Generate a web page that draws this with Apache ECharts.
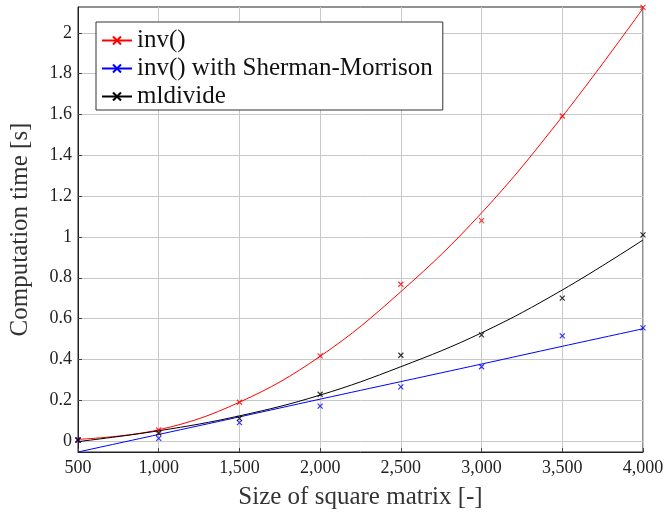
<!DOCTYPE html>
<html>
<head>
<meta charset="utf-8">
<script src="https://cdn.jsdelivr.net/npm/echarts@6/dist/echarts.min.js"></script>
<style>
  html, body { margin: 0; padding: 0; background: #fff; }
  #chart { width: 664px; height: 516px; }
</style>
</head>
<body>
<div id="chart"></div>
<script>
// matrix sizes
var sizes = [500, 1000, 1500, 2000, 2500, 3000, 3500, 4000];
// measured times [s]
var invTimes = [0.005, 0.054, 0.19, 0.417, 0.768, 1.08, 1.593, 2.125];
var shermanTimes = [0.005, 0.013, 0.09, 0.171, 0.265, 0.364, 0.515, 0.554];
var mldivideTimes = [0.005, 0.039, 0.111, 0.229, 0.42, 0.52, 0.70, 1.01];
// fitted trend curves
var invFit = [0.008, 0.055, 0.19, 0.415, 0.732, 1.118, 1.59, 2.12];
var shermanFit = [-0.054, 0.032, 0.118, 0.205, 0.291, 0.377, 0.464, 0.55];
var mldivideFit = [-0.003, 0.05, 0.123, 0.225, 0.364, 0.53, 0.74, 0.985];
var yTicks = [0, 0.2, 0.4, 0.6, 0.8, 1, 1.2, 1.4, 1.6, 1.8, 2];

var font = '"Liberation Serif", serif';
var cross = 'path://M0,0L10,10M10,0L0,10';

function pairs(ys) {
  return sizes.map(function (x, i) { return [x, ys[i]]; });
}

function fitSeries(name, color, ys) {
  return {
    name: name,
    type: 'line',
    data: pairs(ys),
    smooth: 0.4,
    symbol: cross,
    symbolSize: 6,
    showSymbol: false,
    lineStyle: { color: color, width: 1 },
    itemStyle: { color: 'none', borderColor: color, borderWidth: 1.2 },
    emphasis: { disabled: true },
    z: 3
  };
}

function pointSeries(name, color, ys) {
  return {
    name: name,
    type: 'scatter',
    data: pairs(ys),
    symbol: cross,
    symbolSize: 5,
    itemStyle: { color: 'none', borderColor: color, borderWidth: 1.2 },
    emphasis: { disabled: true },
    z: 4
  };
}

var myChart = echarts.init(document.getElementById('chart'));
var options = {
  animation: false,
  backgroundColor: '#fff',
  grid: {
    left: 78, right: 21, top: 7, bottom: 64,
    outerBoundsMode: 'none',
    containLabel: false,
    show: true, borderColor: '#222', borderWidth: 1
  },
  legend: {
    left: 96, top: 22,
    orient: 'vertical',
    backgroundColor: '#fff',
    borderColor: '#333',
    borderWidth: 1,
    borderRadius: 0,
    padding: [6, 10, 1, 5],
    itemWidth: 30,
    itemHeight: 10,
    itemGap: 3,
    textStyle: { fontFamily: font, fontSize: 25, color: '#111' },
    data: ['inv()', 'inv() with Sherman-Morrison', 'mldivide']
  },
  xAxis: {
    type: 'value',
    min: 500, max: 4000, interval: 500,
    name: 'Size of square matrix [-]',
    nameLocation: 'middle',
    nameGap: 33,
    nameMoveOverlap: false,
    nameTextStyle: { fontFamily: font, fontSize: 25, color: '#333' },
    axisLine: { show: true, onZero: false, lineStyle: { color: '#222' } },
    axisTick: { inside: true, length: 4, lineStyle: { color: '#444' } },
    axisLabel: {
      fontFamily: font, fontSize: 18, color: '#222', margin: 7,
      formatter: function (v) { return v.toLocaleString('en-US'); }
    },
    splitLine: { show: true, lineStyle: { color: '#c8c8c8' } }
  },
  yAxis: {
    type: 'value',
    min: -0.054, max: 2.127,
    name: 'Computation time [s]',
    nameLocation: 'middle',
    nameGap: 45,
    nameMoveOverlap: false,
    nameTextStyle: { fontFamily: font, fontSize: 25, color: '#333' },
    axisLine: { show: true, onZero: false, lineStyle: { color: '#222' } },
    axisTick: { inside: true, length: 4, customValues: yTicks, lineStyle: { color: '#444' } },
    axisLabel: {
      fontFamily: font, fontSize: 18, color: '#222', margin: 6,
      customValues: yTicks
    },
    splitLine: { show: true, lineStyle: { color: '#c8c8c8' } }
  },
  series: [
    fitSeries('inv()', '#ff0000', invFit),
    pointSeries('inv()', '#ff0000', invTimes),
    fitSeries('inv() with Sherman-Morrison', '#0000ff', shermanFit),
    pointSeries('inv() with Sherman-Morrison', '#0000ff', shermanTimes),
    fitSeries('mldivide', '#000000', mldivideFit),
    pointSeries('mldivide', '#000000', mldivideTimes)
  ]
};
myChart.setOption(options);
</script>
</body>
</html>
